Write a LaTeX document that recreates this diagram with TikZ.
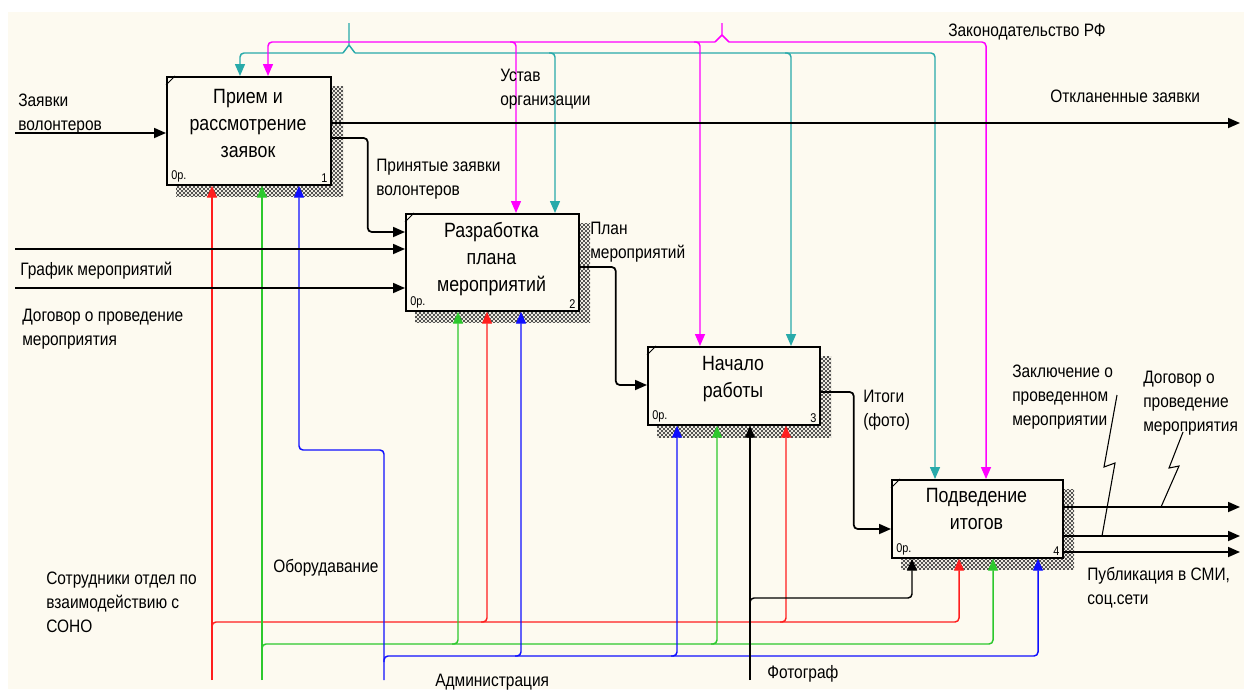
\documentclass[tikz,border=0pt]{standalone}
\usepackage{fontspec}
\setmainfont{Liberation Sans}[FakeStretch=0.86]
\usetikzlibrary{arrows.meta,calc,patterns}
\definecolor{bgc}{RGB}{253,250,240}
\definecolor{cred}{RGB}{255,30,30}
\definecolor{cgreen}{RGB}{45,200,45}
\definecolor{cblue}{RGB}{15,15,255}
\definecolor{cteal}{RGB}{40,170,170}
\definecolor{cmag}{RGB}{255,0,255}
\pgfdeclarepatternformonly{idefshade}{\pgfqpoint{-0.1pt}{-0.1pt}}{\pgfqpoint{3.1pt}{3.1pt}}{\pgfqpoint{3pt}{3pt}}{%
 \pgfsetlinewidth{0.35pt}%
 \pgfpathmoveto{\pgfqpoint{0pt}{0pt}}\pgfpathlineto{\pgfqpoint{3pt}{3pt}}%
 \pgfpathmoveto{\pgfqpoint{0pt}{3pt}}\pgfpathlineto{\pgfqpoint{3pt}{0pt}}%
 \pgfusepath{stroke}}
\tikzset{
  box/.style={draw=black, line width=1.3pt, fill=bgc, rectangle, inner sep=0pt, anchor=north west},
  shadowfill/.style={pattern=idefshade, pattern color=black!80},
  boxtxt/.style={font=\fontsize{15.5pt}{20.25pt}\selectfont, align=center, anchor=north, inner sep=0pt},
  lbl/.style={font=\fontsize{13.5pt}{18pt}\selectfont, align=left, anchor=north west, inner sep=0pt},
  tinytxt/.style={font=\fontsize{9.5pt}{11pt}\selectfont, inner sep=0pt},
  arr/.style={-{Triangle[length=9pt,width=7.5pt]}},
  rc/.style={rounded corners=3pt},
  blk/.style={line width=1.3pt, black},
  thinblk/.style={line width=0.8pt, black},
  rl/.style={line width=1.1pt, cred},
  gl/.style={line width=1.1pt, cgreen},
  ul/.style={line width=1.1pt, cblue},
  tl/.style={line width=1.1pt, cteal},
  ml/.style={line width=1.1pt, cmag},
  kl/.style={line width=1.1pt, black},
  cornermark/.style={line width=0.7pt, black}
}
\begin{document}
\begin{tikzpicture}[x=0.75pt,y=-0.75pt]
\useasboundingbox (0,0) rectangle (1244,689);
\fill[white] (0,0) rectangle (1244,689);
\fill[bgc] (8,12) rectangle (1244,689);

% shadows
\fill[shadowfill] (176,86) rectangle (343,196);
\fill[shadowfill] (415,223) rectangle (590,322);
\fill[shadowfill] (657,356) rectangle (831,437);
\fill[shadowfill] (901,489) rectangle (1074,569);

% boxes
\node[box, minimum width=123pt, minimum height=81pt] (b1) at (166,76) {};
\node[box, minimum width=129.75pt, minimum height=72.75pt] (b2) at (405,213) {};
\node[box, minimum width=129pt, minimum height=58.5pt] (b3) at (647,346) {};
\node[box, minimum width=128.25pt, minimum height=58.5pt] (b4) at (891,479) {};

\foreach \b in {b1,b2,b3,b4}{
  \draw[cornermark] ($(\b.north west)+(0,9)$) -- ($(\b.north west)+(9,0)$);
}

\node[boxtxt] (b1t) at (248,88.6) {Прием и\\рассмотрение\\заявок};
\node[boxtxt] (b2t) at (491.5,221.6) {Разработка\\плана\\мероприятий};
\node[boxtxt] (b3t) at (733,355.6) {Начало\\работы};
\node[boxtxt] (b4t) at (976.5,487.6) {Подведение\\итогов};

\node[tinytxt, anchor=south west] (b1o) at ($(b1.south west)+(5,-3)$) {0р.};
\node[tinytxt, anchor=south east] (b1n) at ($(b1.south east)+(-4,-3)$) {1};
\node[tinytxt, anchor=south west] (b2o) at ($(b2.south west)+(5,-3)$) {0р.};
\node[tinytxt, anchor=south east] (b2n) at ($(b2.south east)+(-4,-3)$) {2};
\node[tinytxt, anchor=south west] (b3o) at ($(b3.south west)+(5,-3)$) {0р.};
\node[tinytxt, anchor=south east] (b3n) at ($(b3.south east)+(-4,-3)$) {3};
\node[tinytxt, anchor=south west] (b4o) at ($(b4.south west)+(5,-3)$) {0р.};
\node[tinytxt, anchor=south east] (b4n) at ($(b4.south east)+(-4,-3)$) {4};

% ports
\coordinate (b1tT) at ($(b1.north west)+(74,0)$);
\coordinate (b1tM) at ($(b1.north west)+(102,0)$);
\coordinate (b1bR) at ($(b1.south west)+(46,0)$);
\coordinate (b1bG) at ($(b1.south west)+(96,0)$);
\coordinate (b1bU) at ($(b1.south west)+(133,0)$);
\coordinate (b1lZ) at ($(b1.north west)+(0,57)$);
\coordinate (b1rO) at ($(b1.north east)+(0,47)$);
\coordinate (b1rP) at ($(b1.north east)+(0,62)$);

\coordinate (b2tM) at ($(b2.north west)+(111,0)$);
\coordinate (b2tT) at ($(b2.north west)+(150,0)$);
\coordinate (b2bG) at ($(b2.south west)+(53,0)$);
\coordinate (b2bR) at ($(b2.south west)+(82,0)$);
\coordinate (b2bU) at ($(b2.south west)+(116,0)$);
\coordinate (b2lP) at ($(b2.north west)+(0,19)$);
\coordinate (b2lG) at ($(b2.north west)+(0,36)$);
\coordinate (b2lD) at ($(b2.north west)+(0,75)$);
\coordinate (b2rP) at ($(b2.north east)+(0,54)$);

\coordinate (b3tM) at ($(b3.north west)+(53,0)$);
\coordinate (b3tT) at ($(b3.north west)+(144,0)$);
\coordinate (b3bU) at ($(b3.south west)+(30,0)$);
\coordinate (b3bG) at ($(b3.south west)+(70,0)$);
\coordinate (b3bK) at ($(b3.south west)+(103,0)$);
\coordinate (b3bR) at ($(b3.south west)+(139,0)$);
\coordinate (b3lP) at ($(b3.north west)+(0,39)$);
\coordinate (b3rI) at ($(b3.north east)+(0,46)$);

\coordinate (b4tT) at ($(b4.north west)+(44,0)$);
\coordinate (b4tM) at ($(b4.north west)+(95,0)$);
\coordinate (b4bK) at ($(b4.south west)+(21,0)$);
\coordinate (b4bR) at ($(b4.south west)+(68,0)$);
\coordinate (b4bG) at ($(b4.south west)+(102,0)$);
\coordinate (b4bU) at ($(b4.south west)+(147,0)$);
\coordinate (b4lI) at ($(b4.north west)+(0,50)$);
\coordinate (b4r1) at ($(b4.north east)+(0,28)$);
\coordinate (b4r2) at ($(b4.north east)+(0,57)$);
\coordinate (b4r3) at ($(b4.north east)+(0,73)$);

% free ends
\coordinate (inZ) at (15,133);
\coordinate (inG) at (15,249);
\coordinate (inD) at (15,288);
\coordinate (outO) at (1240,123);
\coordinate (out1) at (1240,507);
\coordinate (out2) at (1240,536);
\coordinate (out3) at (1240,552);
\coordinate (tS) at (349,23);
\coordinate (tF) at (349,45);
\coordinate (tB) at (349,53);
\coordinate (mS) at (722,23);
\coordinate (mF) at (722,35);
\coordinate (mB) at (722,42);
\coordinate (rS) at (212,680);
\coordinate (rB) at (212,622);
\coordinate (gS) at (262,680);
\coordinate (gB) at (262,644);
\coordinate (uS) at (384,680);
\coordinate (uK) at (384,450);
\coordinate (uB) at (384,656);
\coordinate (kS) at (750,680);
\coordinate (kB) at (750,598);

% teal (control)
\draw[tl] (tS) -- (tF) -- ++(-6,8);
\draw[tl] (tF) -- ++(6,8);
\draw[tl, arr, rc] ($(tB)+(-6,0)$) -| (b1tT);
\draw[tl, arr, rc] ($(tB)+(6,0)$) -| (b4tT);
\draw[tl, arr, rc] ($(b2tT |- tB)+(-6,0)$) -| (b2tT);
\draw[tl, arr, rc] ($(b3tT |- tB)+(-6,0)$) -| (b3tT);

% magenta (control)
\draw[ml] (mS) -- (mF) -- ++(-7,7);
\draw[ml] (mF) -- ++(7,7);
\draw[ml, arr, rc] ($(mB)+(-7,0)$) -| (b1tM);
\draw[ml, arr, rc] ($(mB)+(7,0)$) -| (b4tM);
\draw[ml, arr, rc] ($(b2tM |- mB)+(-6,0)$) -| (b2tM);
\draw[ml, arr, rc] ($(b3tM |- mB)+(-6,0)$) -| (b3tM);

% red (mechanism)
\draw[rl, arr] (rS) -- (b1bR);
\draw[rl, arr, rc] ($(rB)+(0,6)$) |- (b4bR |- rB) -- (b4bR);
\draw[rl, arr, rc] ($(b2bR |- rB)+(-6,0)$) -| (b2bR);
\draw[rl, arr, rc] ($(b3bR |- rB)+(-6,0)$) -| (b3bR);

% green
\draw[gl, arr] (gS) -- (b1bG);
\draw[gl, arr, rc] ($(gB)+(0,6)$) |- (b4bG |- gB) -- (b4bG);
\draw[gl, arr, rc] ($(b2bG |- gB)+(-6,0)$) -| (b2bG);
\draw[gl, arr, rc] ($(b3bG |- gB)+(-6,0)$) -| (b3bG);

% blue
\draw[ul, arr, rc] (uS) -- (uK) -| (b1bU);
\draw[ul, arr, rc] ($(uB)+(0,6)$) |- (b4bU |- uB) -- (b4bU);
\draw[ul, arr, rc] ($(b2bU |- uB)+(-6,0)$) -| (b2bU);
\draw[ul, arr, rc] ($(b3bU |- uB)+(-6,0)$) -| (b3bU);

% black mechanism (photographer)
\draw[kl, arr] (kS) -- (b3bK);
\draw[kl, arr, rc] ($(kB)+(0,6)$) |- (b4bK |- kB) -- (b4bK);

% inputs / outputs
\draw[blk, arr] (inZ) -- (b1lZ);
\draw[blk, arr] (b1rO) -- (outO);
\draw[blk, arr, rc] (b1rP) -- ++(36,0) |- (b2lP);
\draw[blk, arr] (inG) -- (b2lG);
\draw[blk, arr] (inD) -- (b2lD);
\draw[blk, arr, rc] (b2rP) -- ++(36,0) |- (b3lP);
\draw[blk, arr, rc] (b3rI) -- ++(33,0) |- (b4lI);
\draw[blk, arr] (b4r1) -- (out1);
\draw[blk, arr] (b4r2) -- (out2);
\draw[blk, arr] (b4r3) -- (out3);

% squiggles
\draw[thinblk] (1117,395) -- (1104,467) -- (1115,463) -- (1102,536);
\draw[thinblk] (1183,432) -- (1169,468) -- (1179,466) -- (1161,507);

% labels
\node[lbl] (lZ) at (18,93.5) {Заявки\\волонтеров};
\node[lbl] (lP) at (376,158.5) {Принятые заявки\\волонтеров};
\node[lbl] (lU) at (500,68.5) {Устав\\организации};
\node[lbl] (lL) at (948,23.5) {Законодательство РФ};
\node[lbl] (lO) at (1050,89.5) {Откланенные заявки};
\node[lbl] (lPl) at (590,221.5) {План\\мероприятий};
\node[lbl] (lG) at (20,261.5) {График мероприятий};
\node[lbl] (lD) at (22,308.5) {Договор о проведение\\мероприятия};
\node[lbl] (lI) at (863,389.5) {Итоги\\(фото)};
\node[lbl] (lZk) at (1012,364.5) {Заключение о\\проведенном\\мероприятии};
\node[lbl] (lD2) at (1143,370.5) {Договор о\\проведение\\мероприятия};
\node[lbl] (lPub) at (1087,567.5) {Публикация в СМИ,\\соц.сети};
\node[lbl] (lS) at (46,571.5) {Сотрудники отдел по\\взаимодействию с\\СОНО};
\node[lbl] (lOb) at (273,559.5) {Оборудавание};
\node[lbl] (lA) at (435,673.5) {Администрация};
\node[lbl] (lF) at (767,665.5) {Фотограф};
\end{tikzpicture}
\end{document}
